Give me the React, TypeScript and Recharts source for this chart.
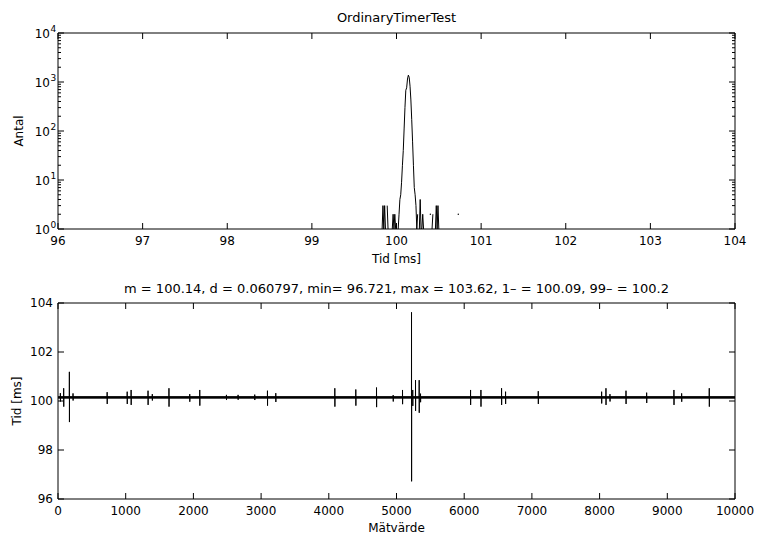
import React from 'react';
import { LineChart, Line, XAxis, YAxis, ReferenceArea } from 'recharts';

// ---- histogram (top) ----
const histBins = [
  99.8, 99.81, 99.82, 99.83, 99.84, 99.85, 99.86, 99.87, 99.88, 99.89,
  99.9, 99.91, 99.92, 99.93, 99.94, 99.95, 99.96, 99.97, 99.98, 99.99,
  100.0, 100.01, 100.02, 100.03, 100.04, 100.05, 100.06, 100.07, 100.08, 100.09,
  100.1, 100.11, 100.12, 100.13, 100.14, 100.15, 100.16, 100.17, 100.18, 100.19,
  100.2, 100.21, 100.22, 100.23, 100.24, 100.25, 100.26, 100.27, 100.28, 100.29,
  100.3, 100.31, 100.32, 100.33, 100.34, 100.35, 100.36, 100.37, 100.38, 100.39,
  100.4, 100.41, 100.42, 100.43, 100.44, 100.45, 100.46, 100.47, 100.48, 100.49,
  100.5, 100.51, 100.52, 100.53, 100.54, 100.55, 100.56, 100.57, 100.58, 100.59,
  100.6, 100.61, 100.62, 100.63, 100.64, 100.65, 100.66, 100.67, 100.68, 100.69,
  100.7, 100.71, 100.72, 100.73, 100.74, 100.75,
];
const histCounts = [
  0, 0, 0, 1, 3, 1, 3, 1, 0, 3,
  1, 0, 0, 0, 0, 1, 2, 1, 2, 1,
  0, 0, 1, 2, 4, 5, 9, 20, 40, 110,
  300, 680, 760, 1150, 1380, 1250, 820, 430, 170, 60,
  20, 7, 5, 3, 1, 2, 0, 1, 4, 1,
  1, 2, 1, 0, 0, 0, 0, 0, 0, 0,
  2, 0, 1, 2, 0, 0, 1, 3, 1, 3,
  1, 0, 0, 0, 0, 0, 0, 0, 0, 0,
  0, 0, 0, 0, 0, 0, 0, 0, 0, 0,
  0, 0, 0, 2, 0, 0,
];
const histXTicks = [96, 97, 98, 99, 100, 101, 102, 103, 104];
const histYTicks = [1, 10, 100, 1000, 10000];
const histMinorTicks = [
  2, 3, 4, 5, 6, 7, 8, 9,
  20, 30, 40, 50, 60, 70, 80, 90,
  200, 300, 400, 500, 600, 700, 800, 900,
  2000, 3000, 4000, 5000, 6000, 7000, 8000, 9000,
];

// ---- measurement series (bottom) ----
const spikeIdx = [
  35, 84, 168, 222, 726, 1022, 1080, 1330, 1393, 1639,
  1946, 2094, 2488, 2660, 2906, 3094, 3217, 4089, 4399, 4705,
  4951, 5089, 5222, 5240, 5281, 5335, 5355, 6094, 6247, 6552,
  6611, 7094, 8030, 8094, 8153, 8390, 8695, 9098, 9212, 9620,
];
const spikeHigh = [
  100.32, 100.52, 101.19, 100.31, 100.36, 100.38, 100.45, 100.42, 100.28, 100.52,
  100.28, 100.45, 100.25, 100.25, 100.26, 100.42, 100.32, 100.52, 100.47, 100.55,
  100.24, 100.45, 103.62, 100.45, 100.85, 100.85, 100.3, 100.45, 100.45, 100.52,
  100.38, 100.4, 100.38, 100.52, 100.28, 100.42, 100.34, 100.45, 100.31, 100.52,
];
const spikeLow = [
  99.98, 99.77, 99.14, 100.02, 99.88, 99.88, 99.84, 99.84, 100.02, 99.77,
  99.97, 99.81, 100.04, 100.05, 100.04, 99.81, 99.96, 99.77, 99.81, 99.75,
  99.98, 99.87, 96.721, 99.8, 99.6, 99.52, 99.95, 99.84, 99.77, 99.84,
  99.88, 99.88, 99.9, 99.84, 99.98, 99.88, 99.92, 99.84, 99.97, 99.77,
];
const seriesMean = 100.14;
const seriesRange = [1, 10000];
const pctBand = [100.09, 100.2];
const seriesXTicks = [0, 1000, 2000, 3000, 4000, 5000, 6000, 7000, 8000, 9000, 10000];
const seriesYTicks = [96, 98, 100, 102, 104];

const topTitle = 'OrdinaryTimerTest';
const bottomTitle = 'm = 100.14, d = 0.060797, min= 96.721, max = 103.62, 1– = 100.09, 99– = 100.2';

const histTable = histBins.map((t, i) => ({ t, n: histCounts[i] > 0 ? histCounts[i] : null }));
const histAllYTicks = [...histYTicks, ...histMinorTicks].sort((a, b) => a - b);

const seriesTable: { i: number; v: number }[] = [{ i: seriesRange[0], v: seriesMean }];
spikeIdx.forEach((s, k) => {
  seriesTable.push({ i: s - 1, v: seriesMean });
  seriesTable.push({ i: s, v: spikeHigh[k] });
  seriesTable.push({ i: s + 1, v: spikeLow[k] });
  seriesTable.push({ i: s + 2, v: seriesMean });
});
seriesTable.push({ i: seriesRange[1], v: seriesMean });

// inward MATLAB-style tick; x/y arrive on the axis line (tickSize 0, tickMargin 0)
function InTick(props: any) {
  const { x, y, payload, orientation, majors, labels, pow } = props;
  const v = payload.value;
  const isMajor = !majors || majors.includes(v);
  const len = isMajor ? 6 : 3;
  let line;
  let text = null;
  if (orientation === 'left') {
    line = <line x1={x} y1={y} x2={x + len} y2={y} stroke="#000" />;
    if (labels && isMajor) {
      text = pow ? (
        <g>
          <text x={x - 8} y={y + 4.5} textAnchor="end" fontSize={12} fill="#000">10</text>
          <text x={x - 7.5} y={y - 1.5} textAnchor="start" fontSize={9} fill="#000">{Math.round(Math.log10(v))}</text>
        </g>
      ) : (
        <text x={x - 5} y={y + 4.3} textAnchor="end" fontSize={12} fill="#000">{v}</text>
      );
    }
  } else if (orientation === 'right') {
    line = <line x1={x} y1={y} x2={x - len} y2={y} stroke="#000" />;
  } else if (orientation === 'top') {
    line = <line x1={x} y1={y} x2={x} y2={y + len} stroke="#000" />;
  } else {
    line = <line x1={x} y1={y} x2={x} y2={y - len} stroke="#000" />;
    if (labels) {
      text = <text x={x} y={y + 16.3} textAnchor="middle" fontSize={12} fill="#000">{v}</text>;
    }
  }
  return (
    <g>
      {line}
      {text}
    </g>
  );
}

const isolatedDot = (p: any) => {
  const i = p.index;
  const alone = histCounts[i] > 0 && !(histCounts[i - 1] > 0) && !(histCounts[i + 1] > 0);
  if (!alone || p.cy == null) return <g key={`d${i}`} />;
  return <circle key={`d${i}`} cx={p.cx} cy={p.cy} r={0.7} fill="#000" />;
};

const axisCommon = { stroke: '#000', tickLine: false, tickSize: 0, tickMargin: 0, interval: 0 as const, allowDataOverflow: true };

export default function App() {
  return (
    <div style={{ position: 'absolute', left: 0, top: 0, width: 758, height: 534, background: '#fff', fontFamily: "'DejaVu Sans', sans-serif", fontSize: 12 }}>
      <LineChart width={758} height={268} data={histTable} margin={{ top: 0, right: 0, bottom: 0, left: 0 }}>
        <XAxis xAxisId="x" dataKey="t" type="number" domain={[96, 104]} ticks={histXTicks} height={39} {...axisCommon}
          tick={<InTick labels />}
          label={{ value: 'Tid [ms]', position: 'insideBottom', offset: 5, fill: '#000', fontSize: 12 }} />
        <XAxis xAxisId="xt" dataKey="t" orientation="top" type="number" domain={[96, 104]} ticks={histXTicks} height={33} {...axisCommon}
          tick={<InTick />}
          label={{ value: topTitle, position: 'insideTop', offset: 13, fill: '#000', fontSize: 13 }} />
        <YAxis yAxisId="y" dataKey="n" type="number" scale="log" domain={[1, 10000]} ticks={histAllYTicks} width={58} {...axisCommon}
          tick={<InTick labels pow majors={histYTicks} />}
          label={{ value: 'Antal', angle: -90, position: 'insideLeft', offset: 19, fill: '#000', fontSize: 12, style: { textAnchor: 'middle' } }} />
        <YAxis yAxisId="yr" dataKey="n" orientation="right" type="number" scale="log" domain={[1, 10000]} ticks={histAllYTicks} width={23} {...axisCommon}
          tick={<InTick majors={histYTicks} />} />
        <Line xAxisId="x" yAxisId="y" dataKey="n" type="linear" stroke="#000" strokeWidth={1} strokeLinejoin="round"
          dot={isolatedDot} activeDot={false} connectNulls={false} isAnimationActive={false} />
      </LineChart>
      <LineChart width={758} height={266} data={seriesTable} margin={{ top: 0, right: 0, bottom: 0, left: 0 }}>
        <XAxis xAxisId="x" dataKey="i" type="number" domain={[0, 10000]} ticks={seriesXTicks} height={35} {...axisCommon}
          tick={<InTick labels />}
          label={{ value: 'Mätvärde', position: 'insideBottom', offset: 2, fill: '#000', fontSize: 12 }} />
        <XAxis xAxisId="xt" dataKey="i" orientation="top" type="number" domain={[0, 10000]} ticks={seriesXTicks} height={35} {...axisCommon}
          tick={<InTick />}
          label={{ value: bottomTitle, position: 'insideTop', offset: 15.5, fill: '#000', fontSize: 13 }} />
        <YAxis yAxisId="y" dataKey="v" type="number" domain={[96, 104]} ticks={seriesYTicks} width={58} {...axisCommon}
          tick={<InTick labels />}
          label={{ value: 'Tid [ms]', angle: -90, position: 'insideLeft', offset: 16.5, fill: '#000', fontSize: 12, style: { textAnchor: 'middle' } }} />
        <YAxis yAxisId="yr" dataKey="v" orientation="right" type="number" domain={[96, 104]} ticks={seriesYTicks} width={23} {...axisCommon}
          tick={<InTick />} />
        <ReferenceArea xAxisId="x" yAxisId="y" x1={seriesRange[0]} x2={seriesRange[1]} y1={pctBand[0]} y2={pctBand[1]}
          fill="#000" fillOpacity={0.9} stroke="none" />
        <Line xAxisId="x" yAxisId="y" dataKey="v" type="linear" stroke="#000" strokeWidth={1}
          dot={false} activeDot={false} isAnimationActive={false} />
      </LineChart>
    </div>
  );
}
